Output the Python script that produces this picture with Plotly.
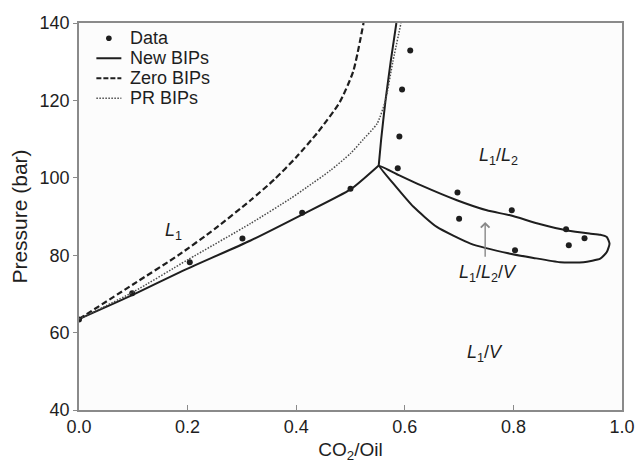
import plotly.graph_objects as go

# ---- Data ----
data_x = [0.0, 0.098, 0.204, 0.301, 0.411, 0.5, 0.587, 0.59, 0.595, 0.61,
          0.697, 0.70, 0.797, 0.803, 0.897, 0.902, 0.931]
data_p = [63.4, 70.2, 78.2, 84.3, 91.0, 97.2, 102.5, 110.7, 122.8, 132.9,
          96.2, 89.4, 91.6, 81.3, 86.7, 82.6, 84.4]

# New BIPs: L1 boundary, L1/L2 boundary, three-phase loop
new_l1_x = [0.0, 0.1, 0.187, 0.316, 0.411, 0.5, 0.552]
new_l1_p = [63.5, 69.8, 75.7, 83.8, 90.5, 97.0, 103.2]
new_up_x = [0.552, 0.5565, 0.5645, 0.574, 0.5845]
new_up_p = [103.2, 110.0, 120.0, 130.0, 140.0]
new_loop_x = [0.552, 0.589, 0.629, 0.696, 0.751, 0.794, 0.85, 0.899, 0.94, 0.960,
              0.972, 0.977, 0.972, 0.960, 0.929, 0.886, 0.837, 0.794, 0.721,
              0.659, 0.616, 0.579, 0.552]
new_loop_p = [103.2, 100.7, 98.1, 94.2, 91.6, 90.3, 88.0, 86.4, 85.6, 85.3,
              84.7, 83.0, 80.8, 79.1, 78.2, 78.2, 79.3, 80.4, 83.0,
              87.3, 92.5, 98.5, 103.2]

# Zero BIPs
zero_x = [0.0, 0.1, 0.183, 0.25, 0.316, 0.36, 0.40, 0.44, 0.48, 0.505, 0.524]
zero_p = [63.5, 72.5, 80.0, 86.8, 94.2, 99.6, 105.3, 111.8, 119.5, 127.5, 140.0]

# PR BIPs
pr_x = [0.0, 0.1, 0.2, 0.316, 0.389, 0.420, 0.463, 0.50, 0.524, 0.549, 0.564, 0.578, 0.593]
pr_p = [63.5, 70.5, 78.8, 88.2, 94.6, 97.6, 101.9, 106.3, 110.0, 114.0, 119.8, 130.0, 140.0]

x_ticks = [0.0, 0.2, 0.4, 0.6, 0.8, 1.0]
y_ticks = [40, 60, 80, 100, 120, 140]

legend_names = ["Data", "New BIPs", "Zero BIPs", "PR BIPs"]

FONT = "Liberation Sans, Arial, sans-serif"
INK = "#1e1e1e"
DASH_ZERO = "6px,3px"
DASH_PR = "1.5px,1.5px"

new_x = new_l1_x + [None] + new_up_x + [None] + new_loop_x
new_p = new_l1_p + [None] + new_up_p + [None] + new_loop_p

fig = go.Figure()
fig.add_trace(go.Scatter(x=data_x, y=data_p, mode="markers", name=legend_names[0],
                         marker=dict(color=INK, size=6), showlegend=False))
fig.add_trace(go.Scatter(x=new_x, y=new_p, mode="lines", name=legend_names[1],
                         line=dict(color=INK, width=2, shape="spline", smoothing=0.5),
                         connectgaps=False, showlegend=False))
fig.add_trace(go.Scatter(x=zero_x, y=zero_p, mode="lines", name=legend_names[2],
                         line=dict(color=INK, width=2.2, dash=DASH_ZERO, shape="spline", smoothing=0.6),
                         showlegend=False))
fig.add_trace(go.Scatter(x=pr_x, y=pr_p, mode="lines", name=legend_names[3],
                         line=dict(color="#4a4a4a", width=1.5, dash=DASH_PR, shape="spline", smoothing=0.6),
                         showlegend=False))

ann_font = dict(family=FONT, size=18, color=INK)
annotations = [
    dict(x=0.174, y=86.0, text="<i>L</i><sub>1</sub>", showarrow=False, font=ann_font),
    dict(x=0.773, y=105.4, text="<i>L</i><sub>1</sub>/<i>L</i><sub>2</sub>", showarrow=False, font=ann_font),
    dict(x=0.754, y=75.2, text="<i>L</i><sub>1</sub>/<i>L</i><sub>2</sub>/<i>V</i>", showarrow=False, font=ann_font),
    dict(x=0.748, y=54.6, text="<i>L</i><sub>1</sub>/<i>V</i>", showarrow=False, font=ann_font),
    dict(x=0.748, y=88.6, ax=0.748, ay=79.2, axref="x", ayref="y", xref="x", yref="y",
         text="", showarrow=True, arrowhead=4, arrowsize=1.2, arrowwidth=1.4,
         arrowcolor="#888888"),
]

# ---- manual legend (tight row spacing as in the reference) ----
leg_rows = [0.9605, 0.9089, 0.8572, 0.8056]
leg_x0, leg_x1, leg_text_x = 0.032, 0.078, 0.091
shapes = []
shapes.append(dict(type="circle", xref="paper", yref="paper", xsizemode="pixel", ysizemode="pixel",
                   xanchor=(leg_x0 + leg_x1) / 2, yanchor=leg_rows[0],
                   x0=-2.8, x1=2.8, y0=-2.8, y1=2.8, fillcolor=INK, line=dict(width=0)))
leg_styles = [dict(color=INK, width=2), dict(color=INK, width=2.2, dash="5px,2px"),
              dict(color="#4a4a4a", width=1.5, dash=DASH_PR)]
for row, style in zip(leg_rows[1:], leg_styles):
    shapes.append(dict(type="line", xref="paper", yref="paper", x0=leg_x0, x1=leg_x1,
                       y0=row, y1=row, line=style))
for row, name in zip(leg_rows, legend_names):
    annotations.append(dict(x=leg_text_x, y=row, xref="paper", yref="paper", text=name,
                            showarrow=False, xanchor="left", yanchor="middle",
                            font=dict(family=FONT, size=18, color=INK)))

axis_common = dict(showline=True, linecolor="#8a8a8a", linewidth=1.5, mirror=True,
                   showgrid=False, zeroline=False, tickcolor="#8a8a8a", automargin=False,
                   tickfont=dict(family=FONT, size=18, color=INK))

fig.update_layout(
    width=637, height=465,
    margin=dict(l=79, r=15, t=23, b=55),
    paper_bgcolor="white", plot_bgcolor="#fcfcfc",
    font=dict(family=FONT, size=18, color=INK),
    showlegend=False,
    annotations=annotations,
    shapes=shapes,
    xaxis=dict(range=[0, 1.0], tickvals=x_ticks, ticktext=[f"{v:.1f}" for v in x_ticks],
               ticks="inside", ticklen=5,
               title=dict(text="CO<sub>2</sub>/Oil", font=dict(family=FONT, size=19, color=INK), standoff=6),
               **axis_common),
    yaxis=dict(range=[40, 140], tickvals=y_ticks, ticks="outside", ticklen=4,
               title=dict(text="Pressure (bar)", font=dict(family=FONT, size=21, color=INK), standoff=6),
               **axis_common),
)

fig.write_html("out.html")
